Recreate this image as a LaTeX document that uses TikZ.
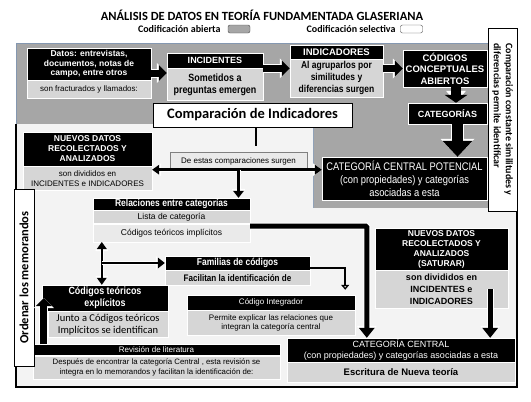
\documentclass[tikz,border=0pt]{standalone}
\usepackage{fontspec}
\setmainfont{Liberation Sans}
\newfontfamily\narrow[FakeStretch=0.85]{Liberation Sans}
\newfontfamily\calib{Carlito}
\usetikzlibrary{positioning,arrows.meta}
\definecolor{grisA}{HTML}{A6A6A6}
\definecolor{grisB}{HTML}{D6D6D6}
\definecolor{grisC}{HTML}{EAEAEA}
\definecolor{fondo}{HTML}{F3F3F3}
\definecolor{borde}{RGB}{132,151,176}
\newcommand{\fs}[2]{\fontsize{#1}{#2}\selectfont}

\begin{document}
\begin{tikzpicture}[x=1pt, y=-1pt,
		hd/.style  = {rectangle, fill=black, draw=white, text=white, align=center, inner sep=1pt},
		bd/.style  = {rectangle, fill=grisB, draw=white, align=center, inner sep=1pt},
		ley/.style = {rectangle, rounded corners=2pt, draw=black!70, minimum width=22, minimum height=8},
		blk/.style = {line width=7pt, -{Triangle[length=8pt,width=16pt,line width=0pt]},
			preaction={draw=white, line width=9pt, -{Triangle[length=10pt,width=20pt,line width=0pt]}}},
		big/.style = {line width=11pt, -{Triangle[length=16pt,width=30pt,line width=0pt]},
			preaction={draw=white, line width=13pt, -{Triangle[length=18pt,width=34pt,line width=0pt]}}},
		med/.style = {line width=5pt, -{Triangle[length=10pt,width=16pt,line width=0pt]},
			preaction={draw=white, line width=7pt, -{Triangle[length=12pt,width=20pt,line width=0pt]}}},
		thn/.style = {line width=2.5pt, -{Triangle[length=7pt,width=11pt,line width=0pt]},
			preaction={draw=white, line width=4pt, -{Triangle[length=9pt,width=14pt,line width=0pt]}}},
		dbl/.style = {line width=2.5pt, {Triangle[length=7pt,width=10pt,line width=0pt]}-{Triangle[length=7pt,width=10pt,line width=0pt]},
			preaction={draw=white, line width=4pt, {Triangle[length=9pt,width=13pt,line width=0pt]}-{Triangle[length=9pt,width=13pt,line width=0pt]}}}
		]
		
		%Background
		\useasboundingbox (0,0) rectangle (531,402);
		\fill[grisA, draw=borde, thick] (16,43) -- (490,43) -- (490,208) -- (313,208) -- (313,124) -- (16,124) -- cycle;
		\fill[fondo] (16,124) -- (313,124) -- (313,208) -- (517,208) -- (517,387) -- (16,387) -- cycle;
		\draw[line width=1.5pt] (16,124) -- (16,387) -- (517,387) -- (517,208);
		
		%Nodes
		\node[font=\calib\bfseries\fs{12.5}{14}] (titulo) at (262,15) {ANÁLISIS DE DATOS EN TEORÍA FUNDAMENTADA GLASERIANA};
		\node[font=\calib\bfseries\fs{10}{12}, anchor=east] (abierta) at (224,29) {Codificación abierta};
		\node[ley, fill=grisA] (leyA) at (239,29) {};
		\node[font=\calib\bfseries\fs{10}{12}, anchor=east] (selec) at (399,29) {Codificación selectiva};
		\node[ley, fill=white] (leyS) at (411.5,29) {};
		
		\node[hd, minimum width=124, minimum height=32, font=\bfseries\fs{8.5}{9.5}] (datos) at (89,64) {Datos: entrevistas,\\documentos, notas de\\campo, entre otros};
		\node[bd, below=0pt of datos, minimum width=124, minimum height=18, font=\fs{8}{9}] (datosb) {son fracturados y llamados:};
		\node[hd, minimum width=96, minimum height=15, font=\bfseries\fs{9}{10}] (incid) at (215,60.5) {INCIDENTES};
		\node[bd, below=0pt of incid, minimum width=96, minimum height=32, font=\narrow\bfseries\fs{10.5}{12}] (incidb) {Sometidos a\\preguntas emergen};
		\node[hd, minimum width=93, minimum height=14, font=\bfseries\fs{9.5}{10}] (indic) at (336.5,52) {INDICADORES};
		\node[bd, below=0pt of indic, minimum width=93, minimum height=38, font=\narrow\bfseries\fs{10}{12}] (indicb) {Al agruparlos por\\similitudes y\\diferencias surgen};
		\node[hd, minimum width=84, minimum height=37, font=\bfseries\fs{9.5}{11.5}] (codab) at (445,68.5) {CÓDIGOS\\CONCEPTUALES\\ABIERTOS};
		\node[hd, minimum width=79, minimum height=21, font=\bfseries\fs{9}{10}] (categ) at (447.5,113.5) {CATEGORÍAS};
		\node[hd, minimum width=165, minimum height=43, font=\narrow\fs{11}{13}] (catpot) at (404.5,178.5) {CATEGORÍA CENTRAL POTENCIAL\\(con propiedades) y categorías\\asociadas a esta};
		
		\node[rectangle, draw=black, line width=1pt, fill=white, minimum width=199, minimum height=24, inner sep=1pt, font=\calib\bfseries\fs{14.5}{16}] (comp) at (252.5,115) {Comparación de Indicadores};
		\node[bd, fill=grisC, draw=black!50, minimum width=137, minimum height=17, font=\fs{8}{9}] (surgen) at (238.5,161) {De estas comparaciones surgen};
		
		\node[hd, minimum width=129, minimum height=34, font=\bfseries\fs{8.5}{10}] (nuevo) at (87.5,149) {NUEVOS DATOS\\RECOLECTADOS Y\\ANALIZADOS};
		\node[bd, below=0pt of nuevo, minimum width=129, minimum height=24, font=\fs{8}{9.5}] (nuevob) {son divididos en\\INCIDENTES e INDICADORES};
		
		\node[hd, minimum width=157, minimum height=12, font=\narrow\bfseries\fs{10}{11}] (relac) at (171.5,204) {Relaciones entre categorías};
		\node[bd, below=0pt of relac, minimum width=157, minimum height=13, font=\fs{8.5}{10}] (lista) {Lista de categoría};
		\node[bd, fill=grisC, below=0pt of lista, minimum width=157, minimum height=18, font=\fs{8.5}{10}] (implic) {Códigos teóricos implícitos};
		
		\node[hd, minimum width=145, minimum height=14, font=\narrow\bfseries\fs{10}{11}] (famil) at (237.5,263) {Familias de códigos};
		\node[bd, below=0pt of famil, minimum width=145, minimum height=15, font=\narrow\bfseries\fs{9.5}{11}] (familb) {Facilitan la identificación de};
		\node[hd, minimum width=168, minimum height=15, font=\fs{8}{9}] (integ) at (271,302.5) {Código Integrador};
		\node[bd, below=0pt of integ, minimum width=168, minimum height=25, font=\fs{8}{9.5}] (integb) {Permite explicar las relaciones que\\integran la categoría central};
		
		\node[hd, minimum width=126, minimum height=26, font=\narrow\bfseries\fs{10.5}{12}] (explic) at (105,298) {Códigos teóricos\\explícitos};
		\node[bd, anchor=north east, minimum width=120, minimum height=26, font=\calib\fs{10.5}{12}] (explicb) at (explic.south east) {Junto a Códigos teóricos\\Implícitos se identifican};
		
		\node[hd, minimum width=247, minimum height=11, font=\fs{8}{9}] (revis) at (156.5,350) {Revisión de literatura};
		\node[bd, below=0pt of revis, minimum width=247, minimum height=23, font=\fs{7.8}{9.5}] (revisb) {Después de encontrar la categoría Central , esta revisión se\\integra en lo memorandos y facilitan la identificación de:};
		
		\node[hd, minimum width=228, minimum height=24, font=\fs{9}{11}] (catcen) at (401,350) {CATEGORÍA CENTRAL\\(con propiedades) y categorías asociadas a esta};
		\node[bd, below=0pt of catcen, minimum width=228, minimum height=20, font=\bfseries\fs{9.5}{11}] (escrit) {Escritura de Nueva teoría};
		
		\node[hd, minimum width=133, minimum height=42, font=\bfseries\fs{8.5}{10}] (satur) at (441.5,249) {NUEVOS DATOS\\RECOLECTADOS Y\\ANALIZADOS\\(SATURAR)};
		\node[bd, below=0pt of satur, minimum width=133, minimum height=38, font=\bfseries\fs{9}{12}] (saturb) {son divididos en\\INCIDENTES e\\INDICADORES};
		
		\node[draw=black, fill=white, rotate=-90, minimum width=183, minimum height=29, inner sep=1pt, align=left, font=\calib\bfseries\fs{10}{12}] (constante) at (502.5,119.5) {Comparación constante similitudes y\\diferencias permite identificar};
		\node[draw=black, fill=white, rotate=90, minimum width=177, minimum height=20, inner sep=1pt, font=\calib\bfseries\fs{12.5}{14}] (memor) at (24,277.5) {Ordenar los memorandos};
		
		%Lines
		\draw[blk] ([yshift=-9pt]datos.east) -- ([yshift=-9pt]datos.east -| incidb.west);
		\draw[blk] ([yshift=10pt]indicb.west -| incidb.east) -- ([yshift=10pt]indicb.west);
		\draw[blk] (indicb.east |- codab.west) -- (codab.west);
		\draw[med, line width=10pt, -{Triangle[length=8pt,width=23pt,line width=0pt]}] ([xshift=11pt]codab.south) -- ([xshift=11pt]codab.south |- categ.north);
		\draw[big] ([xshift=10pt]categ.south) -- ([xshift=10pt]categ.south |- catpot.north);
		
		\draw[line width=1.5pt] ([xshift=3.5pt]comp.south) -- ++(0,18);
		\draw[dbl] (nuevob.east |- surgen.south) -- (catpot.west |- surgen.south);
		\draw[thn] (surgen.south) -- (surgen.south |- relac.north);
		
		\draw[med, rounded corners=1pt] ([yshift=-2.5pt]lista.south east) -| ([xshift=80pt]catcen.north west);
		\draw[med] ([xshift=-18pt]saturb.east) -- ([xshift=-18pt]saturb.east |- catcen.north);
		
		\coordinate (cruce) at ([xshift=9pt]implic.south west |- famil.west);
		\draw[dbl, line width=2pt] ([xshift=9pt]implic.south west) -- ([xshift=9pt]implic.south west |- explic.north);
		\draw[thn, line width=2pt] (cruce) -- (famil.west);
		\draw[line width=1.5pt, -{Triangle[open, length=5pt, width=8pt]}] ([yshift=-5pt]famil.east) -| ([xshift=-10pt, yshift=5pt]integ.north east);
		\draw[blk] ([xshift=11pt]revis.north west) -- ([xshift=11pt]revis.north west |- explic.west);
		
	\end{tikzpicture}
\end{document}
